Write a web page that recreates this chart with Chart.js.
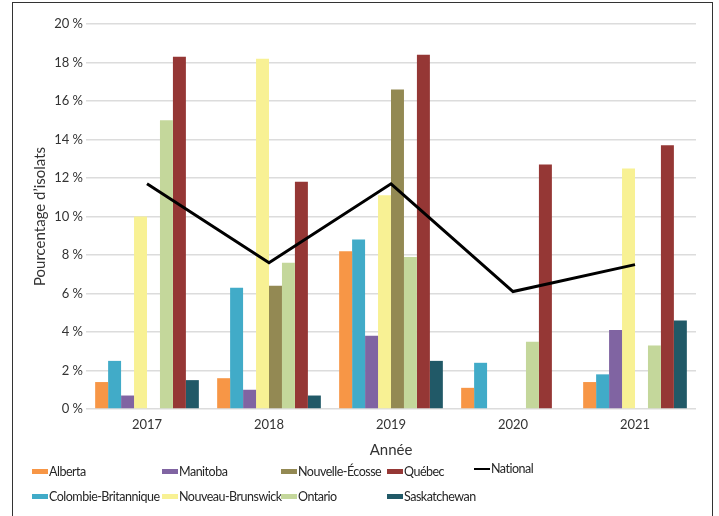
<!DOCTYPE html>
<html lang="fr">
<head>
<meta charset="utf-8">
<script src="https://cdn.jsdelivr.net/npm/chart.js@4"></script>
<style>
  html, body { margin: 0; padding: 0; background: #fff; overflow: hidden; }
  #wrap { position: relative; width: 719px; height: 516px; }
  #cadre { position: absolute; left: 12px; top: 2px; width: 701px; height: 530px; border: 1px solid #333; box-sizing: border-box; }
  canvas { position: absolute; left: 0; top: 0; }
  .leg { position: absolute; font-family: Lato, sans-serif; font-size: 12.5px; letter-spacing: -0.5px; color: #262626; white-space: nowrap; line-height: 16px; }
  .leg span.sw { display: inline-block; width: 16px; height: 5px; vertical-align: middle; margin-right: 1px; position: relative; top: -1px; }
</style>
</head>
<body>
<div id="wrap">
  <canvas id="graphique" width="719" height="516"></canvas>
  <div id="cadre"></div>
  <div id="legende"></div>
</div>
<script>
const annees = ["2017", "2018", "2019", "2020", "2021"];

const provinces = ["Alberta", "Colombie-Britannique", "Manitoba", "Nouveau-Brunswick",
  "Nouvelle-Écosse", "Ontario", "Québec", "Saskatchewan"];

const alberta = [1.4, 1.6, 8.2, 1.1, 1.4];
const colombieBritannique = [2.5, 6.3, 8.8, 2.4, 1.8];
const manitoba = [0.7, 1.0, 3.8, 0, 4.1];
const nouveauBrunswick = [10.0, 18.2, 11.1, 0, 12.5];
const nouvelleEcosse = [0, 6.4, 16.6, 0, 0];
const ontario = [15.0, 7.6, 7.9, 3.5, 3.3];
const quebec = [18.3, 11.8, 18.4, 12.7, 13.7];
const saskatchewan = [1.5, 0.7, 2.5, 0, 4.6];

const national = [11.7, 7.6, 11.7, 6.1, 7.5];

const couleurs = ["#F79646", "#41ABC8", "#8064A2", "#F8F194",
  "#938953", "#C4D79B", "#953735", "#215967"];

const valeurs = [alberta, colombieBritannique, manitoba, nouveauBrunswick,
  nouvelleEcosse, ontario, quebec, saskatchewan];

const datasets = provinces.map((nom, i) => ({
  type: "bar",
  label: nom,
  data: valeurs[i],
  backgroundColor: couleurs[i],
  borderWidth: 0,
  categoryPercentage: 0.85,
  barPercentage: 1.0,
  order: 2,
}));

datasets.push({
  type: "line",
  label: "National",
  data: national,
  borderColor: "#000",
  borderWidth: 3,
  pointRadius: 0,
  tension: 0,
  fill: false,
  order: 1,
});

const police = "Lato, sans-serif";

new Chart(document.getElementById("graphique").getContext("2d"), {
  data: { labels: annees, datasets: datasets },
  options: {
    responsive: false,
    animation: false,
    layout: { padding: { left: 13, right: 23, top: 24, bottom: 0 } },
    plugins: { legend: { display: false }, tooltip: { enabled: false } },
    scales: {
      x: {
        grid: { display: false, drawTicks: false },
        border: { display: false },
        ticks: { color: "#333", font: { family: police, size: 13 }, padding: 8 },
        title: { display: true, text: "Année", color: "#333",
          font: { family: police, size: 15 }, padding: { top: 0, bottom: 57 } },
        afterFit: (s) => { s.height = 107; },
      },
      y: {
        min: 0,
        max: 20,
        ticks: { stepSize: 2, color: "#333", font: { family: police, size: 13 }, padding: 3,
          callback: (v) => v + " %" },
        grid: { color: "#dcdcdc", lineWidth: 1.5, drawTicks: false },
        border: { display: false },
        title: { display: true, text: "Pourcentage d’isolats", color: "#333",
          font: { family: police, size: 15 }, padding: { top: 18, bottom: 0 } },
        afterFit: (s) => { s.width = 73; },
      },
    },
  },
});

// légende en deux rangées, remplie colonne par colonne
const legende = document.getElementById("legende");
const colX = [32, 162, 281, 387];
const rangY = [464, 489];
provinces.forEach((nom, i) => {
  const el = document.createElement("div");
  el.className = "leg";
  el.style.left = colX[Math.floor(i / 2)] + "px";
  el.style.top = rangY[i % 2] + "px";
  el.innerHTML = `<span class="sw" style="background:${couleurs[i]}"></span>${nom}`;
  legende.appendChild(el);
});
const nat = document.createElement("div");
nat.className = "leg";
nat.style.left = "474px";
nat.style.top = "461px";
nat.innerHTML = `<span class="sw" style="background:#000;height:2.5px"></span>National`;
legende.appendChild(nat);
</script>
</body>
</html>
